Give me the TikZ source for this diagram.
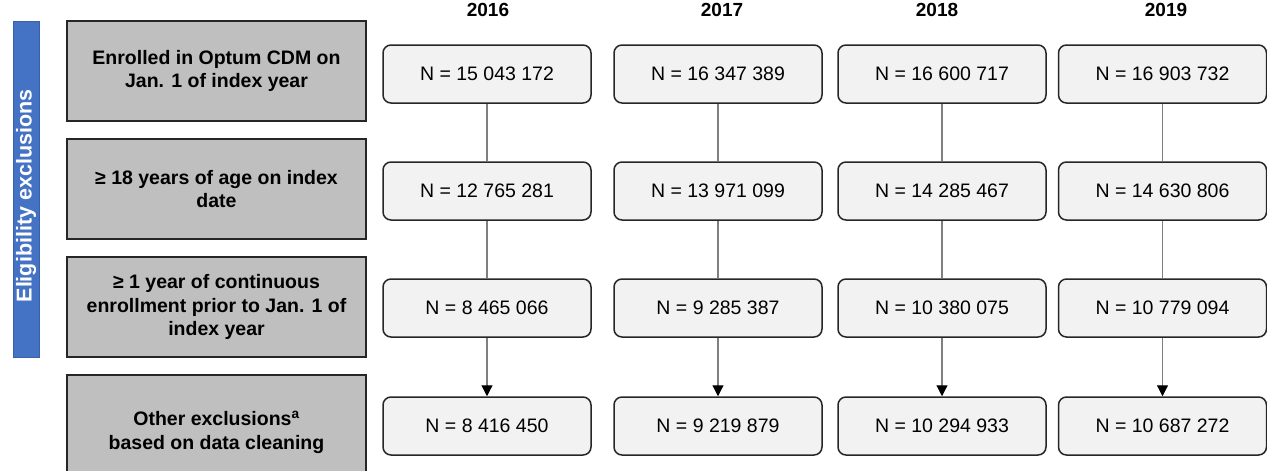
\documentclass[tikz,border=0pt]{standalone}
\usepackage{fontspec}
\setmainfont{Liberation Sans}
\usetikzlibrary{arrows.meta}
\definecolor{barblue}{HTML}{4472C4}
\definecolor{critgray}{HTML}{BFBFBF}
\definecolor{nfill}{HTML}{F2F2F2}
\definecolor{edge}{HTML}{262626}
\definecolor{linkgray}{HTML}{7F7F7F}
\begin{document}
\begin{tikzpicture}[x=1pt,y=-1pt,
  crit/.style={draw=edge, line width=1.5pt, fill=critgray, minimum width=299pt, minimum height=100pt, align=center, inner sep=0pt, font=\fontsize{19.5}{23.5}\selectfont\bfseries},
  nbox/.style={draw=edge, line width=1.5pt, fill=nfill, rounded corners=8pt, minimum width=208pt, minimum height=58pt, inner sep=0pt, font=\fontsize{19.5}{23.5}\selectfont},
  yearlab/.style={font=\fontsize{19}{23}\selectfont\bfseries},
  link/.style={draw=linkgray, line width=1.2pt},
  arrowlink/.style={draw=linkgray, line width=1.2pt, -{Triangle[length=11pt,width=11pt,black]}},
]
\useasboundingbox (0,0) rectangle (1267,471);
% side bar
\node[fill=barblue, draw=barblue!85!black, line width=0.8pt, minimum width=336pt, minimum height=26pt, rotate=90, inner sep=0pt] (bar) at (26,189) {};
\node[rotate=90, text=white, font=\fontsize{21.5}{24}\selectfont\bfseries, inner sep=0pt] (bartext) at (26,196) {Eligibility exclusions};
% criteria boxes
\node[crit] (c1) at (216.5,71) {Enrolled in Optum CDM on\\Jan. 1 of index year};
\node[crit] (c2) at (216.5,189) {≥ 18 years of age on index\\date};
\node[crit] (c3) at (216.5,307) {≥ 1 year of continuous\\enrollment prior to Jan. 1 of\\index year};
\node[crit, minimum height=114pt] (c4) at (216.5,432) {Other exclusions\textsuperscript{a}\\based on data cleaning};
% years
\node[yearlab] (y1) at (488,10) {2016};
\node[yearlab] (y2) at (722,10) {2017};
\node[yearlab] (y3) at (937,10) {2018};
\node[yearlab] (y4) at (1166,10) {2019};
% column 1
\node[nbox] (a1) at (487,74) {N = 15 043 172};
\node[nbox] (a2) at (487,191) {N = 12 765 281};
\node[nbox] (a3) at (487,308) {N = 8 465 066};
\node[nbox] (a4) at (487,426) {N = 8 416 450};
% column 2
\node[nbox] (b1) at (718,74) {N = 16 347 389};
\node[nbox] (b2) at (718,191) {N = 13 971 099};
\node[nbox] (b3) at (718,308) {N = 9 285 387};
\node[nbox] (b4) at (718,426) {N = 9 219 879};
% column 3
\node[nbox] (d1) at (942,74) {N = 16 600 717};
\node[nbox] (d2) at (942,191) {N = 14 285 467};
\node[nbox] (d3) at (942,308) {N = 10 380 075};
\node[nbox] (d4) at (942,426) {N = 10 294 933};
% column 4
\node[nbox] (e1) at (1162.5,74) {N = 16 903 732};
\node[nbox] (e2) at (1162.5,191) {N = 14 630 806};
\node[nbox] (e3) at (1162.5,308) {N = 10 779 094};
\node[nbox] (e4) at (1162.5,426) {N = 10 687 272};
% connectors
\foreach \c in {a,b,d,e}{
  \draw[link] (\c1) -- (\c2);
  \draw[link] (\c2) -- (\c3);
  \draw[arrowlink] (\c3) -- (\c4);
}
\end{tikzpicture}
\end{document}
